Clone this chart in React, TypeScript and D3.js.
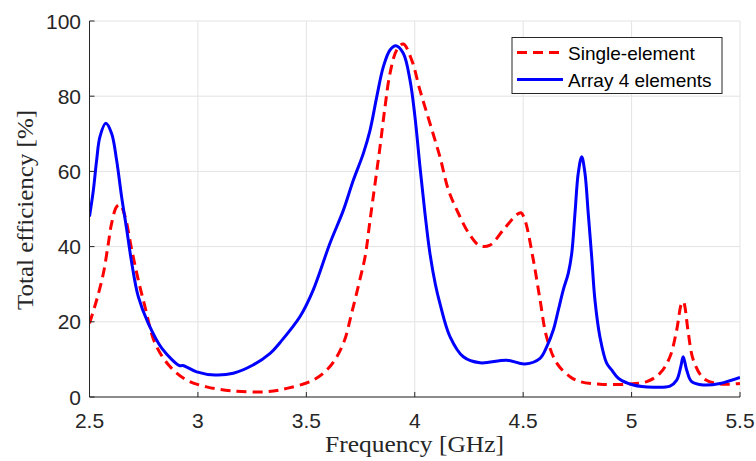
import React from "react";
import * as d3 from "d3";

const xTicks = [2.5, 3, 3.5, 4, 4.5, 5, 5.5];
const xTickLabels = ["2.5", "3", "3.5", "4", "4.5", "5", "5.5"];
const yTicks = [0, 20, 40, 60, 80, 100];
const yTickLabels = ["0", "20", "40", "60", "80", "100"];
const seriesNames = ["Single-element", "Array 4 elements"];

const singleFreq = [2.5, 2.533, 2.564, 2.587, 2.602, 2.625, 2.641, 2.664, 2.695, 2.725, 2.756, 2.802, 2.871, 2.948, 3.04, 3.163, 3.317, 3.41, 3.532, 3.609, 3.671, 3.709, 3.748, 3.771, 3.794, 3.817, 3.84, 3.863, 3.886, 3.917, 3.947, 3.986, 4.024, 4.07, 4.116, 4.155, 4.2, 4.25, 4.301, 4.347, 4.408, 4.47, 4.49, 4.508, 4.547, 4.578, 4.608, 4.655, 4.716, 4.762, 4.854, 4.977, 5.07, 5.131, 5.177, 5.208, 5.231, 5.24, 5.246, 5.262, 5.285, 5.331, 5.392, 5.45, 5.5];
const singleEff = [19.6, 25.8, 32.9, 40.9, 46.2, 50.6, 51.1, 48.0, 39.1, 31.1, 24.0, 14.3, 8.1, 4.5, 2.7, 1.6, 1.4, 2.3, 4.5, 8.1, 14.3, 22.3, 31.5, 37.3, 47.1, 56.8, 66.6, 77.2, 86.1, 92.3, 93.9, 89.6, 81.6, 72.8, 63.9, 55.1, 49.0, 43.5, 40.2, 40.4, 44.4, 48.5, 49.0, 47.1, 36.4, 25.8, 16.0, 9.0, 5.4, 4.1, 3.4, 3.4, 4.1, 6.3, 10.7, 17.8, 24.9, 25.3, 24.0, 16.9, 9.8, 5.0, 3.6, 3.4, 3.6];

const arrayFreq = [2.5, 2.518, 2.533, 2.548, 2.575, 2.602, 2.625, 2.648, 2.672, 2.695, 2.725, 2.771, 2.833, 2.917, 2.93, 2.994, 3.079, 3.163, 3.254, 3.333, 3.379, 3.471, 3.532, 3.609, 3.671, 3.717, 3.763, 3.794, 3.825, 3.855, 3.886, 3.913, 3.947, 3.978, 4.001, 4.024, 4.047, 4.07, 4.095, 4.116, 4.163, 4.224, 4.301, 4.424, 4.508, 4.578, 4.609, 4.639, 4.662, 4.685, 4.708, 4.724, 4.739, 4.754, 4.770, 4.785, 4.800, 4.816, 4.831, 4.854, 4.885, 4.908, 4.939, 5.008, 5.10, 5.177, 5.208, 5.227, 5.238, 5.254, 5.277, 5.331, 5.408, 5.5];
const arrayEff = [48.0, 55.1, 63.0, 69.2, 72.8, 70.1, 63.0, 53.3, 44.4, 35.6, 26.7, 19.6, 13.0, 8.3, 8.4, 6.7, 5.85, 6.3, 8.5, 11.6, 14.5, 21.4, 28.5, 40.9, 49.7, 57.7, 64.8, 71.0, 79.9, 87.8, 92.3, 93.4, 91.4, 84.3, 74.5, 61.3, 48.9, 38.2, 30.0, 24.9, 16.0, 10.7, 9.1, 9.8, 8.8, 10.3, 13.4, 17.8, 23.1, 28.5, 32.9, 38.2, 48.9, 59.5, 63.9, 59.5, 48.9, 37.3, 25.8, 16.0, 9.0, 7.2, 5.0, 3.2, 2.6, 2.9, 4.5, 8.1, 10.7, 7.2, 4.1, 3.2, 3.6, 5.2];

const W = 756, H = 461;
const left = 89.5, right = 740, top = 21, bottom = 397;

export default function App() {
  const x = d3.scaleLinear().domain([2.5, 5.5]).range([left, right]);
  const y = d3.scaleLinear().domain([0, 100]).range([bottom, top]);
  const line = d3.line<[number, number]>()
    .x(d => x(d[0])).y(d => y(d[1]))
    .curve(d3.curveCatmullRom.alpha(0.5));
  const single = line(singleFreq.map((f, i) => [f, singleEff[i]]) as [number, number][]) || "";
  const arr = line(arrayFreq.map((f, i) => [f, arrayEff[i]]) as [number, number][]) || "";
  const axisColor = "#262626";
  const grid = "#e3e3e3";
  return (
    <svg width={W} height={H} style={{ position: "absolute", left: 0, top: 0 }}>
      <rect width={W} height={H} fill="#fff" />
      {xTicks.map((t, i) => (
        <line key={"gx" + i} x1={x(t)} x2={x(t)} y1={top} y2={bottom} stroke={grid} strokeWidth={1} />
      ))}
      {yTicks.map((t, i) => (
        <line key={"gy" + i} x1={left} x2={right} y1={y(t)} y2={y(t)} stroke={grid} strokeWidth={1} />
      ))}
      <defs>
        <clipPath id="clip"><rect x={left} y={top - 2} width={right - left} height={bottom - top + 2} /></clipPath>
      </defs>
      <g clipPath="url(#clip)">
        <path d={single} fill="none" stroke="#ff0000" strokeWidth={3} strokeDasharray="10,6" />
        <path d={arr} fill="none" stroke="#0000ff" strokeWidth={3} />
      </g>
      <line x1={left} x2={right} y1={bottom} y2={bottom} stroke={axisColor} strokeWidth={1} />
      <line x1={left} x2={left} y1={top} y2={bottom} stroke={axisColor} strokeWidth={1} />
      {xTicks.map((t, i) => (
        <g key={"tx" + i}>
          <line x1={x(t)} x2={x(t)} y1={bottom} y2={bottom - 5} stroke={axisColor} />
          <text x={x(t)} y={428} textAnchor="middle" fontFamily="'Liberation Sans', Arial, sans-serif" fontSize={21} fill={axisColor}>{xTickLabels[i]}</text>
        </g>
      ))}
      {yTicks.map((t, i) => (
        <g key={"ty" + i}>
          <line x1={left} x2={left + 5} y1={y(t)} y2={y(t)} stroke={axisColor} />
          <text x={81} y={y(t) + 7.5} textAnchor="end" fontFamily="'Liberation Sans', Arial, sans-serif" fontSize={21} fill={axisColor}>{yTickLabels[i]}</text>
        </g>
      ))}
      <text x={414.5} y={452} textAnchor="middle" fontFamily="'Liberation Serif', 'Times New Roman', serif" fontSize={23} fill={axisColor} textLength={179} lengthAdjust="spacingAndGlyphs">Frequency [GHz]</text>
      <text transform={`translate(33,210) rotate(-90)`} textAnchor="middle" fontFamily="'Liberation Serif', 'Times New Roman', serif" fontSize={23} fill={axisColor} textLength={200} lengthAdjust="spacingAndGlyphs">Total efficiency [%]</text>
      <g>
        <rect x={512} y={37.5} width={210} height={56} fill="#fff" stroke={axisColor} strokeWidth={1} />
        <line x1={517} x2={563} y1={52.5} y2={52.5} stroke="#ff0000" strokeWidth={3} strokeDasharray="10,6" />
        <line x1={517} x2={563} y1={79.5} y2={79.5} stroke="#0000ff" strokeWidth={3} />
        <text x={568} y={59.5} fontFamily="'Liberation Sans', Arial, sans-serif" fontSize={19} fill="#000">{seriesNames[0]}</text>
        <text x={568} y={86.5} fontFamily="'Liberation Sans', Arial, sans-serif" fontSize={19} fill="#000">{seriesNames[1]}</text>
      </g>
    </svg>
  );
}
